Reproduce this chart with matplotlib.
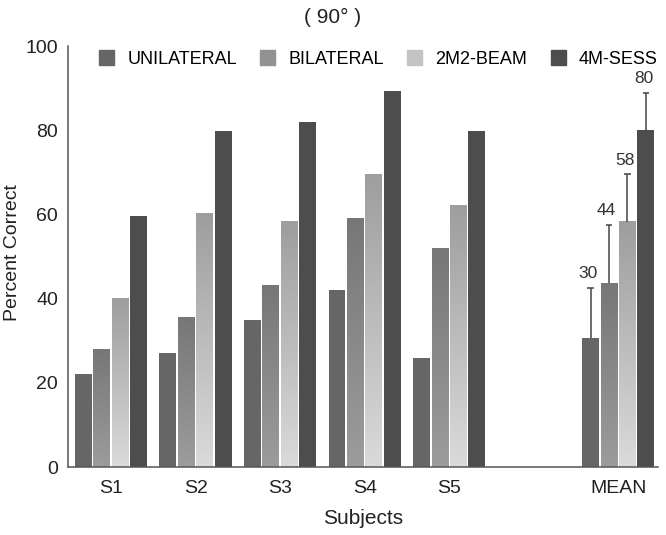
import numpy as np
import matplotlib
matplotlib.use('Agg')
import matplotlib.pyplot as plt
from matplotlib.colors import LinearSegmentedColormap
from matplotlib.patches import Patch

plt.rcParams['font.family'] = ['Liberation Sans', 'DejaVu Sans']

# data
subjects = ['S1', 'S2', 'S3', 'S4', 'S5', 'MEAN']
positions = [0, 1, 2, 3, 4, 6]
series = ['UNILATERAL', 'BILATERAL', '2M2-BEAM', '4M-SESS']
unilateral = [22, 27, 35, 42, 26, 30.6]
bilateral = [28, 35.6, 43, 59, 51.8, 43.6]
beam = [40, 60.3, 58.3, 69.5, 62, 58.3]
sess = [59.6, 79.8, 82, 89.3, 79.8, 80]
mean_err = [12, 14, 11.2, 8.8]
mean_labels = ['30', '44', '58', '80']

values = [unilateral, bilateral, beam, sess]
# (top colour, bottom colour) for each series
colors = [('#666666', '#666666'), ('#777777', '#9c9c9c'),
          ('#9e9e9e', '#dadada'), ('#4d4d4d', '#4d4d4d')]
legend_colors = ['#666666', '#929292', '#c4c4c4', '#4d4d4d']

fig = plt.figure(figsize=(6.66, 5.35), dpi=100)
ax = fig.add_axes([0.102, 0.127, 0.886, 0.787])

step = 0.218
width = 0.2
for i, vals in enumerate(values):
    top, bottom = colors[i]
    cmap = LinearSegmentedColormap.from_list('g%d' % i, [bottom, top])
    for x, v in zip(positions, vals):
        xc = x + (i - 1.5) * step
        if top == bottom:
            ax.bar(xc, v, width, color=top, zorder=2)
        else:
            grad = np.linspace(0, 1, 100).reshape(-1, 1)
            ax.imshow(grad, extent=[xc - width / 2, xc + width / 2, 0, v],
                      origin='lower', aspect='auto', cmap=cmap, zorder=2)

# upper error bars and labels for the mean group
for i in range(4):
    xc = positions[-1] + (i - 1.5) * step
    v = values[i][-1]
    hi = v + mean_err[i]
    ax.vlines(xc, v, hi, color='#444444', lw=1.1, zorder=3)
    ax.hlines(hi, xc - 0.04, xc + 0.04, color='#444444', lw=1.1, zorder=3)
    ax.text(xc - 0.03, hi + 1.6, mean_labels[i], ha='center',
            va='bottom', fontsize=12.5, color='#333333')

ax.set_xlim(-0.51, 6.47)
ax.set_ylim(0, 100)
ax.set_yticks([0, 20, 40, 60, 80, 100])
ax.set_xticks(positions)
ax.set_xticklabels(subjects)
ax.tick_params(length=0, labelsize=14, colors='#222222', pad=9)
ax.tick_params(axis='y', pad=7)
for s in ['top', 'right']:
    ax.spines[s].set_visible(False)
for s in ['left', 'bottom']:
    ax.spines[s].set_color('#555555')
    ax.spines[s].set_linewidth(1.1)

ax.set_xlabel('Subjects', fontsize=15, color='#222222', labelpad=9)
ax.set_ylabel('Percent Correct', fontsize=14, color='#222222',
              va='center', ha='center')
ax.yaxis.set_label_coords(-0.094, 0.51)
fig.text(333 / 666, 1 - 17 / 535, '( 90° )', ha='center', va='center',
         fontsize=15, color='#222222')

handles = [Patch(color=c) for c in legend_colors]
ax.legend(handles, series, loc='center', bbox_to_anchor=(0.526, 0.969),
          ncol=4, frameon=False, fontsize=13, handlelength=0.83,
          handleheight=0.83, columnspacing=1.28, handletextpad=0.75)

fig.savefig('out.png', dpi=100)
